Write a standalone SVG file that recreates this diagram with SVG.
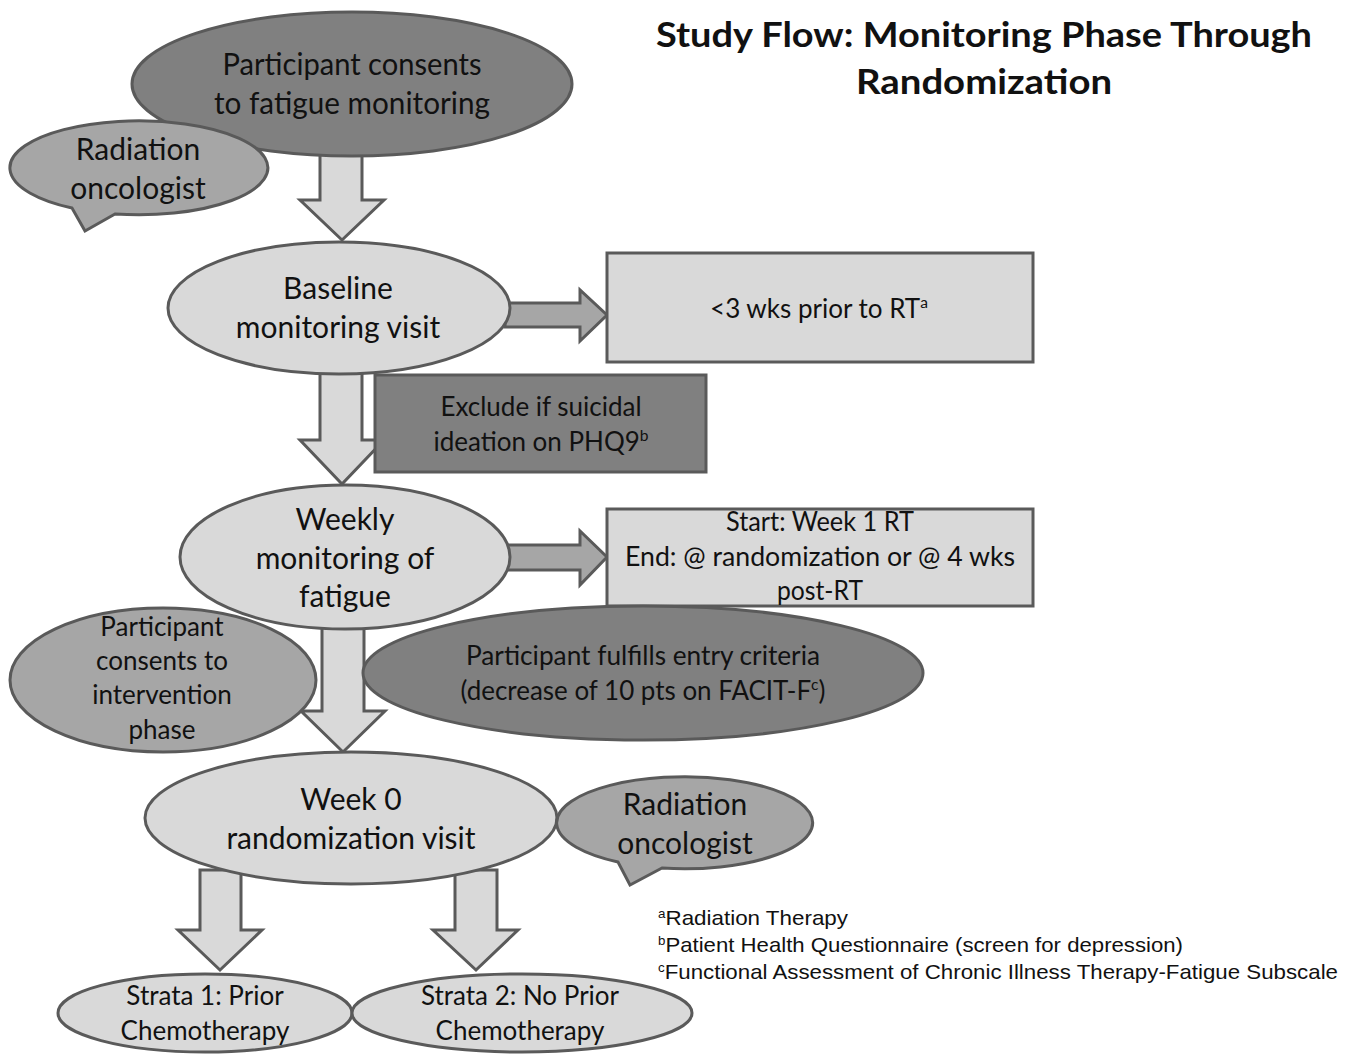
<svg xmlns="http://www.w3.org/2000/svg" width="1356" height="1055" viewBox="0 0 1356 1055">
<style>
text{font-family:Lato,"Open Sans","Liberation Sans",sans-serif;fill:#111;text-anchor:middle}
.title{font-weight:bold;font-size:35px}
.n30{font-size:30px}
.n26{font-size:26px}
.fn{font-family:"Liberation Sans",Arial,sans-serif;font-size:21px;text-anchor:start}
.sup{font-size:60%}
.dark{fill:#808080;stroke:#5a5a5a;stroke-width:3}
.mid{fill:#a6a6a6;stroke:#5a5a5a;stroke-width:3}
.light{fill:#d9d9d9;stroke:#5a5a5a;stroke-width:3}
.arrowL{fill:#d9d9d9;stroke:#5a5a5a;stroke-width:3;stroke-linejoin:miter}
.arrowM{fill:#a6a6a6;stroke:#5a5a5a;stroke-width:3;stroke-linejoin:miter}
</style>
<rect width="1356" height="1055" fill="#ffffff"/>

<g id="title">
<text class="title" x="984" y="47" textLength="656" lengthAdjust="spacingAndGlyphs">Study Flow: Monitoring Phase Through</text>
<text class="title" x="984" y="94" textLength="256" lengthAdjust="spacingAndGlyphs">Randomization</text>
</g>

<g id="connectors">
<polygon class="arrowL" points="320,150 362,150 362,200 384,200 342,240 300,200 320,200"/>
<polygon class="arrowL" points="320,370 362,370 362,440 384,440 342,484 300,440 320,440"/>
<polygon class="arrowL" points="322,620 364,620 364,711 385,711 343,752 301,711 322,711"/>
<polygon class="arrowL" points="200,870 241,870 241,930 262,930 220,970 178,930 200,930"/>
<polygon class="arrowL" points="455,870 497,870 497,930 518,930 476,970 433,930 455,930"/>
<polygon class="arrowM" points="505,303 580,303 580,290 607,315 580,341 580,327 505,327"/>
<polygon class="arrowM" points="505,545 580,545 580,531 607,557 580,585 580,570 505,570"/>
</g>

<g id="consent-monitoring">
<ellipse class="dark" cx="352" cy="84" rx="220" ry="72"/>
<text class="n30" x="352" y="75" textLength="259" lengthAdjust="spacingAndGlyphs">Participant consents</text>
<text class="n30" x="352" y="114" textLength="276" lengthAdjust="spacingAndGlyphs">to fatigue monitoring</text>
</g>

<g id="rad-onc-1">
<path class="mid" d="M115,214 L85,231 L72,208 A129 47 0 1 1 115,214 Z"/>
<text class="n30" x="138" y="160">Radiation</text>
<text class="n30" x="138" y="199">oncologist</text>
</g>

<g id="baseline-visit">
<ellipse class="light" cx="339" cy="308" rx="171" ry="66"/>
<text class="n30" x="338" y="299">Baseline</text>
<text class="n30" x="338" y="338">monitoring visit</text>
</g>

<g id="prior-rt">
<rect class="light" x="607" y="253" width="426" height="109"/>
<text class="n26" x="819" y="318">&lt;3 wks prior to RT<tspan class="sup" dy="-10">a</tspan></text>
</g>

<g id="exclude">
<rect class="dark" x="375" y="375" width="331" height="97"/>
<text class="n26" x="541" y="416">Exclude if suicidal</text>
<text class="n26" x="541" y="451">ideation on PHQ9<tspan class="sup" dy="-10">b</tspan></text>
</g>

<g id="consent-intervention">
<ellipse class="mid" cx="163" cy="680" rx="153" ry="72"/>
<text class="n26" x="162" y="636">Participant</text>
<text class="n26" x="162" y="670">consents to</text>
<text class="n26" x="162" y="704">intervention</text>
<text class="n26" x="162" y="739">phase</text>
</g>

<g id="weekly-monitoring">
<ellipse class="light" cx="345" cy="557" rx="165" ry="72"/>
<text class="n30" x="345" y="530">Weekly</text>
<text class="n30" x="345" y="569">monitoring of</text>
<text class="n30" x="345" y="607">fatigue</text>
</g>

<g id="monitoring-window">
<rect class="light" x="607" y="509" width="426" height="97"/>
<text class="n26" x="820" y="531" textLength="188" lengthAdjust="spacingAndGlyphs">Start: Week 1 RT</text>
<text class="n26" x="820" y="566" textLength="390" lengthAdjust="spacingAndGlyphs">End: @ randomization or @ 4 wks</text>
<text class="n26" x="820" y="600" textLength="86" lengthAdjust="spacingAndGlyphs">post-RT</text>
</g>

<g id="entry-criteria">
<ellipse class="dark" cx="643" cy="673" rx="280" ry="67"/>
<text class="n26" x="643" y="665" textLength="354" lengthAdjust="spacingAndGlyphs">Participant fulfills entry criteria</text>
<text class="n26" x="643" y="700" textLength="365" lengthAdjust="spacingAndGlyphs">(decrease of 10 pts on FACIT-F<tspan class="sup" dy="-10">c</tspan><tspan dy="10">)</tspan></text>
</g>

<g id="week0-randomization">
<ellipse class="light" cx="351" cy="818" rx="206" ry="66"/>
<text class="n30" x="351" y="810">Week 0</text>
<text class="n30" x="351" y="849">randomization visit</text>
</g>

<g id="rad-onc-2">
<path class="mid" d="M662,868 L630,885 L618,862 A128 46 0 1 1 662,868 Z"/>
<text class="n30" x="685" y="815">Radiation</text>
<text class="n30" x="685" y="854">oncologist</text>
</g>

<g id="strata-1">
<ellipse class="light" cx="205" cy="1013" rx="147" ry="39"/>
<text class="n26" x="205" y="1005">Strata 1: Prior</text>
<text class="n26" x="205" y="1040">Chemotherapy</text>
</g>

<g id="strata-2">
<ellipse class="light" cx="522" cy="1013" rx="170" ry="39"/>
<text class="n26" x="520" y="1005">Strata 2: No Prior</text>
<text class="n26" x="520" y="1040">Chemotherapy</text>
</g>

<g id="footnotes">
<text class="fn" x="658" y="925" textLength="190" lengthAdjust="spacingAndGlyphs"><tspan class="sup" dy="-7">a</tspan><tspan dy="7">Radiation Therapy</tspan></text>
<text class="fn" x="658" y="952" textLength="525" lengthAdjust="spacingAndGlyphs"><tspan class="sup" dy="-7">b</tspan><tspan dy="7">Patient Health Questionnaire (screen for depression)</tspan></text>
<text class="fn" x="658" y="979" textLength="680" lengthAdjust="spacingAndGlyphs"><tspan class="sup" dy="-7">c</tspan><tspan dy="7">Functional Assessment of Chronic Illness Therapy-Fatigue Subscale</tspan></text>
</g>
</svg>
